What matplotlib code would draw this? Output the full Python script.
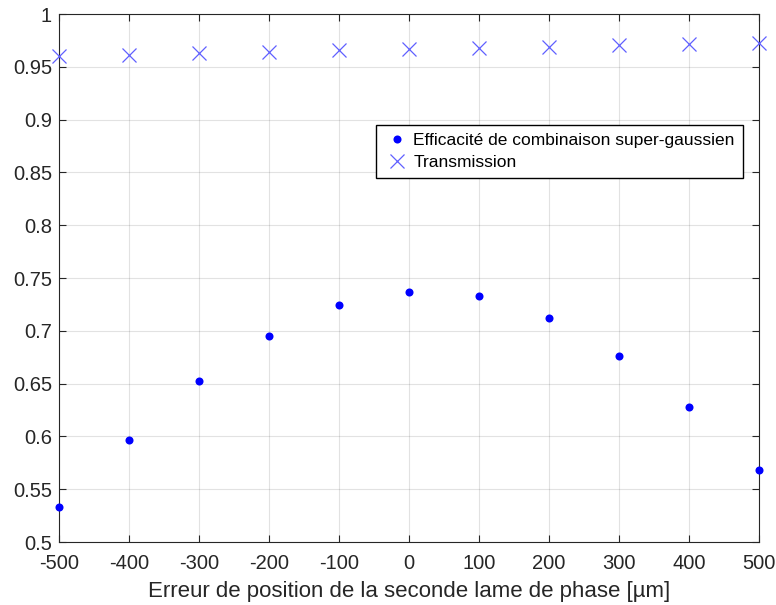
import matplotlib
matplotlib.use("Agg")
import matplotlib.pyplot as plt

plt.rcParams['font.family'] = ['Liberation Sans', 'DejaVu Sans']

positions = [-500, -400, -300, -200, -100, 0, 100, 200, 300, 400, 500]
efficiency = [0.533, 0.597, 0.652, 0.695, 0.724, 0.7365, 0.7325, 0.7125, 0.6765, 0.628, 0.568]
transmission = [0.9606, 0.9615, 0.963, 0.964, 0.9657, 0.967, 0.968, 0.969, 0.9705, 0.972, 0.973]
xticks = [-500, -400, -300, -200, -100, 0, 100, 200, 300, 400, 500]
yticks = [0.5, 0.55, 0.6, 0.65, 0.7, 0.75, 0.8, 0.85, 0.9, 0.95, 1.0]
ytick_labels = ['0.5', '0.55', '0.6', '0.65', '0.7', '0.75', '0.8', '0.85', '0.9', '0.95', '1']
xlabel = 'Erreur de position de la seconde lame de phase [µm]'
labels = ['Efficacité de combinaison super-gaussien', 'Transmission']

W, H = 776, 605
fig = plt.figure(figsize=(W / 100, H / 100), dpi=100)
left, right, top, bottom = 59, 759, 14, 542
ax = fig.add_axes([left / W, 1 - bottom / H, (right - left) / W, (bottom - top) / H])

ax.plot(positions, efficiency, linestyle='none', marker='o', markersize=5.8,
        markeredgewidth=0, color='#0000ff', label=labels[0], zorder=3, clip_on=False)
ax.plot(positions, transmission, linestyle='none', marker='x', markersize=10.5,
        markeredgewidth=0.9, color='#6060ff', label=labels[1], zorder=3, clip_on=False)

ax.set_xlim(-500, 500)
ax.set_ylim(0.5, 1.0)
ax.set_xticks(xticks)
ax.set_xticklabels([str(v) for v in xticks])
ax.set_yticks(yticks)
ax.set_yticklabels(ytick_labels)
ax.grid(True, color='#262626', alpha=0.13, linewidth=0.8)
ax.set_axisbelow(True)
ax.tick_params(direction='in', top=True, right=True, length=5, width=0.8,
               colors='#262626', labelsize=14.5, labelcolor='#262626')
ax.tick_params(axis='x', pad=8.5)
ax.tick_params(axis='y', pad=5)
for s in ax.spines.values():
    s.set_color('#262626')
    s.set_linewidth(0.8)
ax.set_xlabel(xlabel, fontsize=16, color='#262626', labelpad=6)

leg = ax.legend(loc='upper left', bbox_to_anchor=(376 / W, 1 - 125 / H),
                bbox_transform=fig.transFigure, fontsize=12.5, frameon=True,
                fancybox=False, edgecolor='black', framealpha=1,
                borderpad=0.45, handletextpad=0.2, handlelength=1.5, labelspacing=0.4,
                borderaxespad=0)
leg.get_frame().set_linewidth(1.0)

fig.savefig('out.png', dpi=100)
